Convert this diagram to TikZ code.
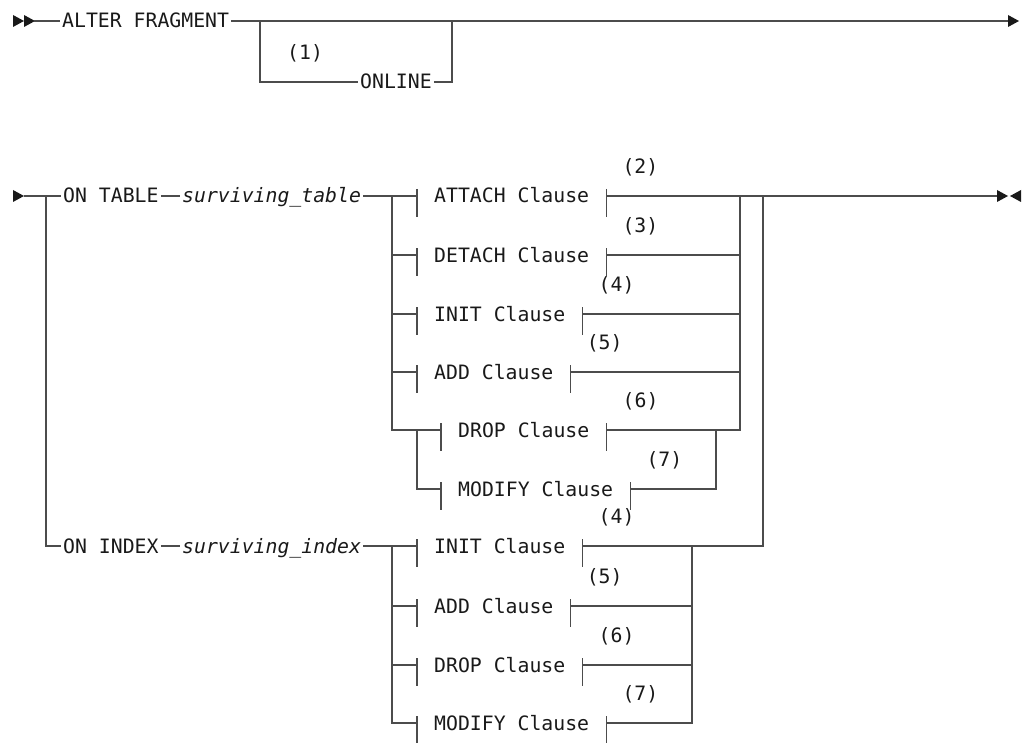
\documentclass[tikz,border=0pt]{standalone}
\usepackage{fontspec}
\newfontfamily\railfont{DejaVu Sans Mono}
\newcommand{\rr}{\railfont\fontsize{19.8pt}{22pt}\selectfont}
\begin{document}
\begin{tikzpicture}[
        x=1pt, y=-1pt,
        rail/.style={draw=black!70, line width=1.3pt},
        railtip/.style={fill=black!90},
        kw/.style={font=\rr, text=black!90, inner xsep=2pt, inner ysep=0pt,
          text height=14pt, text depth=0pt, anchor=west},
        var/.style={kw, font=\rr\itshape},
        clause/.style={kw, inner xsep=17pt},
        note/.style={font=\rr, text=black!90, inner sep=0pt, anchor=west}
      ]
      \useasboundingbox (0,0) rectangle (1024,743);
      % arrow heads at the ends of the rails
      \foreach \x/\y/\d in {13/21/1, 24/21/1, 1008/21/1,
        13/196/1, 997/196/1, 1021/196/-1}{
        \fill[railtip] (\x,\y-6) -- ++(\d*11,6) -- ++(-\d*11,6) -- cycle;
      }
      % first rail
      \coordinate (s1) at (34,21);
      \coordinate (a1) at (260,21);
      \coordinate (a2) at (452,21);
      \coordinate (end1) at (1008,21);
      \node[kw] (alter) at (60,21) {ALTER FRAGMENT};
      \node[kw] (online) at (358,82) {ONLINE};
      \node[note] (n1) at (287,53) {(1)};
      \draw[rail] (s1) -- (alter.west);
      \draw[rail] (alter.east) -- (end1);
      \draw[rail] (a1) |- (online.west);
      \draw[rail] (online.east) -| (a2);
      % second rail
      \coordinate (s2) at (24,196);
      \coordinate (osplit) at (46,196);
      \coordinate (tsplit) at (392,196);
      \coordinate (tsub) at (417,430);
      \coordinate (tsubj) at (716,430);
      \coordinate (tjoin) at (740,196);
      \coordinate (join) at (763,196);
      \coordinate (end2) at (997,196);
      \coordinate (isplit) at (392,546);
      \coordinate (ijoin) at (692,546);
      \node[kw] (ontable) at (61,196) {ON TABLE};
      \node[var] (stable) at (180,196) {surviving\_table};
      \node[kw] (onindex) at (61,546) {ON INDEX};
      \node[var] (sindex) at (180,546) {surviving\_index};
      \foreach \n/\t/\x/\y/\k in {%
        atta/ATTACH Clause/417/196/2,
        deta/DETACH Clause/417/255/3,
        tini/INIT Clause/417/314/4,
        tadd/ADD Clause/417/372/5,
        tdrop/DROP Clause/441/430/6,
        tmod/MODIFY Clause/441/489/7,
        iini/INIT Clause/417/546/4,
        iadd/ADD Clause/417/606/5,
        idrop/DROP Clause/417/665/6,
        imod/MODIFY Clause/417/723/7%
      }{
        \node[clause] (\n) at (\x,\y) {\t};
        \draw[rail] (\n.west) ++(0,-7) -- ++(0,28);
        \draw[rail] (\n.east) ++(0,-7) -- ++(0,28);
        \node[note] (\n-note) at ([xshift=16pt, yshift=29pt]\n.east) {(\k)};
      }
      \draw[rail] (s2) -- (ontable.west);
      \draw[rail] (ontable.east) -- (stable.west);
      \draw[rail] (stable.east) -- (atta.west);
      \draw[rail] (osplit) |- (onindex.west);
      \draw[rail] (onindex.east) -- (sindex.west);
      \draw[rail] (sindex.east) -- (iini.west);
      \foreach \n in {deta, tini, tadd, tdrop}{
        \draw[rail] (tsplit) |- (\n.west);
        \draw[rail] (\n.east) -| (tjoin);
      }
      \draw[rail] (tsub) |- (tmod.west);
      \draw[rail] (tmod.east) -| (tsubj);
      \draw[rail] (atta.east) -- (join);
      \draw[rail] (join) -- (end2);
      \draw[rail] (iini.east) -| (join);
      \foreach \n in {iadd, idrop, imod}{
        \draw[rail] (isplit) |- (\n.west);
        \draw[rail] (\n.east) -| (ijoin);
      }
    \end{tikzpicture}
\end{document}
